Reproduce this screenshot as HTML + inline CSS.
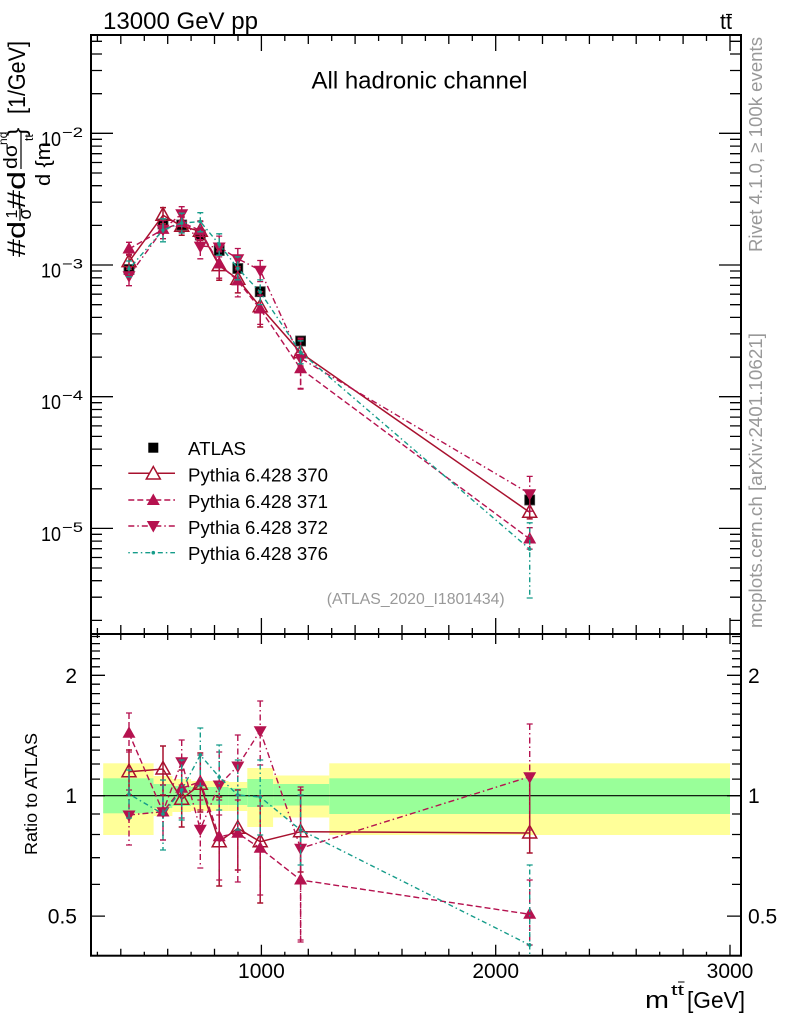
<!DOCTYPE html>
<html><head><meta charset="utf-8"><style>
html,body{margin:0;padding:0;background:#fff;}
svg{display:block;font-family:"Liberation Sans",Arial,Helvetica,sans-serif;}
</style></head><body>
<svg width="786" height="1024" viewBox="0 0 786 1024" xmlns="http://www.w3.org/2000/svg">
<defs>
<clipPath id="cm"><rect x="91" y="35" width="650" height="599"/></clipPath>
<clipPath id="cr"><rect x="91" y="634" width="650" height="321.7"/></clipPath>
<path id="tu" d="M-6.5,4.5 L6.5,4.5 L0,-7 Z"/>
<path id="td" d="M-6.5,-4.5 L6.5,-4.5 L0,7 Z"/>
<path id="to" d="M-7,5 L7,5 L0,-7.5 Z"/>
</defs>
<rect width="786" height="1024" fill="#fff"/>

<!-- Top labels -->
<text x="103" y="29" font-size="24" textLength="155" lengthAdjust="spacingAndGlyphs">13000 GeV pp</text>
<text x="720" y="29" font-size="22" textLength="12" lengthAdjust="spacingAndGlyphs">tt</text>
<line x1="726" y1="14.5" x2="732" y2="14.5" stroke="#000" stroke-width="1.2"/>
<text x="311.5" y="88.3" font-size="24" textLength="216" lengthAdjust="spacingAndGlyphs">All hadronic channel</text>
<text x="326.7" y="604" font-size="16" fill="#999" textLength="178" lengthAdjust="spacingAndGlyphs">(ATLAS_2020_I1801434)</text>

<!-- Right vertical texts -->
<text transform="rotate(-90)" x="-252" y="762" font-size="18.6" fill="#999" textLength="215" lengthAdjust="spacingAndGlyphs">Rivet 4.1.0, ≥ 100k events</text>
<text transform="rotate(-90)" x="-628" y="762" font-size="18.6" fill="#999" textLength="295" lengthAdjust="spacingAndGlyphs">mcplots.cern.ch [arXiv:2401.10621]</text>

<!-- Main y label -->
<g transform="rotate(-90)">
<text x="-257" y="25" font-size="25" textLength="36" lengthAdjust="spacingAndGlyphs">#d</text>
<text x="-214" y="17" font-size="16" text-anchor="middle">1</text>
<text x="-214" y="31" font-size="18" text-anchor="middle">σ</text>
<text x="-209" y="25" font-size="25" textLength="38" lengthAdjust="spacingAndGlyphs">#d</text>
<text x="-169" y="17" font-size="19" textLength="25" lengthAdjust="spacingAndGlyphs">dσ</text>
<text x="-145" y="7" font-size="12">nd</text>
<text x="-186" y="50" font-size="20" textLength="44" lengthAdjust="spacingAndGlyphs">d {m</text>
<text x="-141" y="33" font-size="12">tt</text>
<text x="-136" y="25" font-size="25">}</text>
<text x="-114" y="25" font-size="24" textLength="73" lengthAdjust="spacingAndGlyphs">[1/GeV]</text>
</g>
<line x1="20" y1="221" x2="20" y2="206" stroke="#000" stroke-width="1.2"/>
<line x1="21" y1="169" x2="21" y2="131" stroke="#000" stroke-width="1.2"/>

<text transform="rotate(-90)" x="-855" y="37" font-size="17.7" textLength="122" lengthAdjust="spacingAndGlyphs">Ratio to ATLAS</text>

<!-- Ratio bands -->
<g>
<rect x="103.2" y="763.3" width="50.4" height="71.7" fill="#ffff99"/>
<rect x="103.2" y="778.3" width="50.4" height="35" fill="#99ff99"/>
<rect x="153.6" y="776" width="18.8" height="40" fill="#ffff99"/>
<rect x="153.6" y="784" width="18.8" height="24" fill="#99ff99"/>
<rect x="172.4" y="779" width="18.7" height="33" fill="#ffff99"/>
<rect x="172.4" y="786" width="18.7" height="20" fill="#99ff99"/>
<rect x="191.1" y="781" width="18.8" height="30" fill="#ffff99"/>
<rect x="191.1" y="787" width="18.8" height="18" fill="#99ff99"/>
<rect x="209.9" y="781" width="18.7" height="30" fill="#ffff99"/>
<rect x="209.9" y="787" width="18.7" height="18" fill="#99ff99"/>
<rect x="228.6" y="782" width="18.7" height="29" fill="#ffff99"/>
<rect x="228.6" y="788" width="18.7" height="17" fill="#99ff99"/>
<rect x="247.3" y="768" width="25.8" height="59" fill="#ffff99"/>
<rect x="247.3" y="779" width="25.8" height="28" fill="#99ff99"/>
<rect x="273.1" y="775.5" width="56.2" height="42" fill="#ffff99"/>
<rect x="273.1" y="784" width="56.2" height="21.5" fill="#99ff99"/>
<rect x="329.3" y="763.3" width="400.7" height="71.7" fill="#ffff99"/>
<rect x="329.3" y="778.3" width="400.7" height="35.7" fill="#99ff99"/>
</g>
<line x1="91" y1="795.7" x2="741" y2="795.7" stroke="#000" stroke-width="1.2"/>

<!-- Frames -->
<rect x="91" y="35" width="650" height="599" fill="none" stroke="#000" stroke-width="2"/>
<rect x="91" y="634" width="650" height="321.7" fill="none" stroke="#000" stroke-width="2"/>

<!-- X ticks -->
<g stroke="#000" stroke-width="1.3" fill="none">
<path d="M261.4 35v16M495.7 35v16M730 35v16
M120.8 35v9M167.7 35v9M214.5 35v9M308.3 35v9M355.1 35v9M402 35v9M448.8 35v9M542.5 35v9M589.4 35v9M636.2 35v9M683.1 35v9
M97.4 35v6M144.3 35v6M191.1 35v6M238 35v6M284.8 35v6M331.7 35v6M378.6 35v6M425.4 35v6M472.3 35v6M519.1 35v6M566 35v6M612.8 35v6M659.7 35v6M706.5 35v6"/>
<path d="M261.4 634v-16M495.7 634v-16M730 634v-16
M120.8 634v-9M167.7 634v-9M214.5 634v-9M308.3 634v-9M355.1 634v-9M402 634v-9M448.8 634v-9M542.5 634v-9M589.4 634v-9M636.2 634v-9M683.1 634v-9
M97.4 634v-6M144.3 634v-6M191.1 634v-6M238 634v-6M284.8 634v-6M331.7 634v-6M378.6 634v-6M425.4 634v-6M472.3 634v-6M519.1 634v-6M566 634v-6M612.8 634v-6M659.7 634v-6M706.5 634v-6"/>
<path d="M261.4 634v10M495.7 634v10M730 634v10
M120.8 634v6M167.7 634v6M214.5 634v6M308.3 634v6M355.1 634v6M402 634v6M448.8 634v6M542.5 634v6M589.4 634v6M636.2 634v6M683.1 634v6
M97.4 634v4M144.3 634v4M191.1 634v4M238 634v4M284.8 634v4M331.7 634v4M378.6 634v4M425.4 634v4M472.3 634v4M519.1 634v4M566 634v4M612.8 634v4M659.7 634v4M706.5 634v4"/>
<path d="M261.4 955.7v-11M495.7 955.7v-11M730 955.7v-11
M120.8 955.7v-7M167.7 955.7v-7M214.5 955.7v-7M308.3 955.7v-7M355.1 955.7v-7M402 955.7v-7M448.8 955.7v-7M542.5 955.7v-7M589.4 955.7v-7M636.2 955.7v-7M683.1 955.7v-7
M97.4 955.7v-4M144.3 955.7v-4M191.1 955.7v-4M238 955.7v-4M284.8 955.7v-4M331.7 955.7v-4M378.6 955.7v-4M425.4 955.7v-4M472.3 955.7v-4M519.1 955.7v-4M566 955.7v-4M612.8 955.7v-4M659.7 955.7v-4M706.5 955.7v-4"/>
</g>

<!-- Main Y ticks -->
<g stroke="#000" stroke-width="1.3" fill="none">
<path d="M91 133.3h22M91 265h22M91 396.7h22M91 528.4h22
M91 93.7h11M91 70.5h11M91 54h11M91 41.3h11
M91 225.4h11M91 202.2h11M91 185.7h11M91 173h11M91 162.5h11M91 153.7h11M91 146.1h11M91 139.3h11
M91 357.1h11M91 333.9h11M91 317.4h11M91 304.7h11M91 294.2h11M91 285.4h11M91 277.8h11M91 271h11
M91 488.8h11M91 465.6h11M91 449.1h11M91 436.4h11M91 425.9h11M91 417.1h11M91 409.5h11M91 402.7h11
M91 620.4h11M91 597.2h11M91 580.7h11M91 568h11M91 557.5h11M91 548.7h11M91 541.1h11M91 534.3h11"/>
<path d="M741 133.3h-22M741 265h-22M741 396.7h-22M741 528.4h-22
M741 93.7h-11M741 70.5h-11M741 54h-11M741 41.3h-11
M741 225.4h-11M741 202.2h-11M741 185.7h-11M741 173h-11M741 162.5h-11M741 153.7h-11M741 146.1h-11M741 139.3h-11
M741 357.1h-11M741 333.9h-11M741 317.4h-11M741 304.7h-11M741 294.2h-11M741 285.4h-11M741 277.8h-11M741 271h-11
M741 488.8h-11M741 465.6h-11M741 449.1h-11M741 436.4h-11M741 425.9h-11M741 417.1h-11M741 409.5h-11M741 402.7h-11
M741 620.4h-11M741 597.2h-11M741 580.7h-11M741 568h-11M741 557.5h-11M741 548.7h-11M741 541.1h-11M741 534.3h-11"/>
<path d="M91 916.1h14M91 795.7h14M91 675.3h14
M91 884.4h9M91 857.7h9M91 834.5h9M91 814h9M91 779.1h9M91 764h9M91 750.1h9M91 737.2h9M91 725.3h9M91 714.1h9M91 703.5h9M91 693.6h9M91 684.2h9M91 666.8h9M91 658.7h9M91 651h9M91 643.6h9M91 636.5h9"/>
<path d="M741 916.1h-14M741 795.7h-14M741 675.3h-14
M741 884.4h-9M741 857.7h-9M741 834.5h-9M741 814h-9M741 779.1h-9M741 764h-9M741 750.1h-9M741 737.2h-9M741 725.3h-9M741 714.1h-9M741 703.5h-9M741 693.6h-9M741 684.2h-9M741 666.8h-9M741 658.7h-9M741 651h-9M741 643.6h-9M741 636.5h-9"/>
</g>

<!-- Tick labels -->
<g font-size="20">
<text x="61" y="145.8" text-anchor="end" textLength="20" lengthAdjust="spacingAndGlyphs">10</text>
<text x="61" y="277.5" text-anchor="end" textLength="20" lengthAdjust="spacingAndGlyphs">10</text>
<text x="61" y="409.2" text-anchor="end" textLength="20" lengthAdjust="spacingAndGlyphs">10</text>
<text x="61" y="540.9" text-anchor="end" textLength="20" lengthAdjust="spacingAndGlyphs">10</text>
</g>
<g font-size="14">
<text x="62" y="136.8" textLength="21" lengthAdjust="spacingAndGlyphs">−2</text>
<text x="62" y="268.5" textLength="21" lengthAdjust="spacingAndGlyphs">−3</text>
<text x="62" y="400.2" textLength="21" lengthAdjust="spacingAndGlyphs">−4</text>
<text x="62" y="531.9" textLength="21" lengthAdjust="spacingAndGlyphs">−5</text>
</g>
<g font-size="21">
<text x="77" y="682.8" text-anchor="end">2</text>
<text x="77" y="803.2" text-anchor="end">1</text>
<text x="77" y="923.6" text-anchor="end">0.5</text>
<text x="748" y="682.8">2</text>
<text x="748" y="803.2">1</text>
<text x="748" y="923.6">0.5</text>
<text x="261.4" y="978" text-anchor="middle">1000</text>
<text x="495.7" y="978" text-anchor="middle">2000</text>
<text x="730" y="978" text-anchor="middle">3000</text>
</g>
<!-- X title -->
<text x="645" y="1008" font-size="24" textLength="24" lengthAdjust="spacingAndGlyphs">m</text>
<text x="671" y="995" font-size="15" textLength="13" lengthAdjust="spacingAndGlyphs">tt</text>
<line x1="678" y1="982" x2="684.5" y2="982" stroke="#000" stroke-width="1"/>
<text x="687" y="1008" font-size="23" textLength="58" lengthAdjust="spacingAndGlyphs">[GeV]</text>

<!-- MAIN PANEL DATA -->
<g clip-path="url(#cm)">
<g fill="#000" stroke="#444" stroke-width="0.8">
<rect x="124" y="264.5" width="10" height="10"/>
<rect x="158" y="219" width="10" height="10"/>
<rect x="176.7" y="220" width="10" height="10"/>
<rect x="195.3" y="230" width="10" height="10"/>
<rect x="214.2" y="245.5" width="10" height="10"/>
<rect x="232.8" y="263.5" width="10" height="10"/>
<rect x="255.2" y="286.7" width="10" height="10"/>
<rect x="295.6" y="336" width="10" height="10"/>
<rect x="524.7" y="495" width="10" height="10"/>
</g>
<g stroke="#a8112e" stroke-width="1.5" fill="none">
<polyline points="129,261.6 163,215.2 181.7,226.2 200.3,231.3 219.2,265.6 237.8,279.2 260.2,306.8 300.6,352.8 529.7,512.3"/>
<path d="M129 254.5V269.3M163 207.6V223.8M181.7 216.6V235.3M200.3 221V240.4M219.2 250.9V280.2M237.8 266.6V292.9M260.2 291.8V327M300.6 339.1V366.1M529.7 493.9V518.9
M126 254.5h6M126 269.3h6M160 207.6h6M160 223.8h6M178.7 216.6h6M178.7 235.3h6M197.3 221h6M197.3 240.4h6M216.2 250.9h6M216.2 280.2h6M234.8 266.6h6M234.8 292.9h6M257.2 291.8h6M257.2 327h6M297.6 339.1h6M297.6 366.1h6M526.7 493.9h6M526.7 518.9h6"/>
<use href="#to" x="129" y="261.6"/><use href="#to" x="163" y="215.2"/><use href="#to" x="181.7" y="226.2"/><use href="#to" x="200.3" y="231.3"/><use href="#to" x="219.2" y="265.6"/><use href="#to" x="237.8" y="279.2"/><use href="#to" x="260.2" y="306.8"/><use href="#to" x="300.6" y="352.8"/><use href="#to" x="529.7" y="512.3"/>
</g>
<g stroke="#b5124f" stroke-width="1.4" fill="none" stroke-dasharray="6,3">
<polyline points="129,249 163,229.4 181.7,222.6 200.3,230.4 219.2,264 237.8,280.9 260.2,309 300.6,368.7 529.7,539"/>
<path d="M129 242.3V255.2M163 220.5V238.6M181.7 213.3V232.4M200.3 221.6V239.7M219.2 251.9V278.2M237.8 268.3V296.9M260.2 295.1V324.4M300.6 352.2V388.4M529.7 527.7V549.1"/>
</g>
<g stroke="#b5124f" stroke-width="1.3">
<path d="M126 242.3h6M126 255.2h6M160 220.5h6M160 238.6h6M178.7 213.3h6M178.7 232.4h6M197.3 221.6h6M197.3 239.7h6M216.2 251.9h6M216.2 278.2h6M234.8 268.3h6M234.8 296.9h6M257.2 295.1h6M257.2 324.4h6M297.6 352.2h6M297.6 388.4h6M526.7 527.7h6M526.7 549.1h6"/>
</g>
<g fill="#b5124f">
<use href="#tu" x="129" y="249"/><use href="#tu" x="163" y="229.4"/><use href="#tu" x="181.7" y="222.6"/><use href="#tu" x="200.3" y="230.4"/><use href="#tu" x="219.2" y="264"/><use href="#tu" x="237.8" y="280.9"/><use href="#tu" x="260.2" y="309"/><use href="#tu" x="300.6" y="368.7"/><use href="#tu" x="529.7" y="539"/>
</g>
<g stroke="#b5124f" stroke-width="1.4" fill="none" stroke-dasharray="6,3,1.5,3">
<polyline points="129,275.8 163,229.3 181.7,213.8 200.3,246.1 219.2,247 237.8,258.7 260.2,270.3 300.6,358.3 529.7,493.7"/>
<path d="M129 267.6V285.7M163 220.5V238.6M181.7 206.7V221.5M200.3 236.5V258.8M219.2 236.1V256.9M237.8 248.5V269.9M260.2 260.5V281.6M300.6 338.1V389.1M529.7 476.4V511.2"/>
</g>
<g stroke="#b5124f" stroke-width="1.3">
<path d="M126 267.6h6M126 285.7h6M160 220.5h6M160 238.6h6M178.7 206.7h6M178.7 221.5h6M197.3 236.5h6M197.3 258.8h6M216.2 236.1h6M216.2 256.9h6M234.8 248.5h6M234.8 269.9h6M257.2 260.5h6M257.2 281.6h6M297.6 338.1h6M297.6 389.1h6M526.7 476.4h6M526.7 511.2h6"/>
</g>
<g fill="#b5124f">
<use href="#td" x="129" y="275.8"/><use href="#td" x="163" y="229.3"/><use href="#td" x="181.7" y="213.8"/><use href="#td" x="200.3" y="246.1"/><use href="#td" x="219.2" y="247"/><use href="#td" x="237.8" y="258.7"/><use href="#td" x="260.2" y="270.3"/><use href="#td" x="300.6" y="358.3"/><use href="#td" x="529.7" y="493.7"/>
</g>
<g stroke="#169c8a" stroke-width="1.4" fill="none" stroke-dasharray="1.5,3,5,3">
<polyline points="129,268.9 163,230 181.7,223.1 200.3,221.6 219.2,244.3 237.8,268.3 260.2,292.1 300.6,352.3 529.7,549.1"/>
<path d="M129 261V276.8M163 218.8V241.8M181.7 213.2V233M200.3 212.7V231.8M219.2 233.8V255.2M237.8 256.8V279.8M260.2 279.9V304.6M300.6 340.8V363.8M529.7 522.8V598"/>
</g>
<g stroke="#169c8a" stroke-width="1.3">
<path d="M126 261h6M126 276.8h6M160 218.8h6M160 241.8h6M178.7 213.2h6M178.7 233h6M197.3 212.7h6M197.3 231.8h6M216.2 233.8h6M216.2 255.2h6M234.8 256.8h6M234.8 279.8h6M257.2 279.9h6M257.2 304.6h6M297.6 340.8h6M297.6 363.8h6M526.7 522.8h6M526.7 598h6"/>
</g>
<g fill="#169c8a">
<circle cx="129" cy="268.9" r="1.8"/><circle cx="163" cy="230" r="1.8"/><circle cx="181.7" cy="223.1" r="1.8"/><circle cx="200.3" cy="221.6" r="1.8"/><circle cx="219.2" cy="244.3" r="1.8"/><circle cx="237.8" cy="268.3" r="1.8"/><circle cx="260.2" cy="292.1" r="1.8"/><circle cx="300.6" cy="352.3" r="1.8"/><circle cx="529.7" cy="549.1" r="1.8"/>
</g>
</g>

<!-- RATIO PANEL DATA -->
<g clip-path="url(#cr)">
<g stroke="#a8112e" stroke-width="1.5" fill="none">
<polyline points="129,771.7 163,769 181.7,799.3 200.3,784.3 219.2,841.7 237.8,828.3 260.2,841.7 300.6,831.7 529.7,833"/>
<path d="M129 750V795M163 746V795M181.7 770V827M200.3 753V812M219.2 797V886M237.8 790V870M260.2 796V903M300.6 790V872M529.7 777V853
M126 750h6M126 795h6M160 746h6M160 795h6M178.7 770h6M178.7 827h6M197.3 753h6M197.3 812h6M216.2 797h6M216.2 886h6M234.8 790h6M234.8 870h6M257.2 796h6M257.2 903h6M297.6 790h6M297.6 872h6M526.7 777h6M526.7 853h6"/>
<use href="#to" x="129" y="771.7"/><use href="#to" x="163" y="769"/><use href="#to" x="181.7" y="799.3"/><use href="#to" x="200.3" y="784.3"/><use href="#to" x="219.2" y="841.7"/><use href="#to" x="237.8" y="828.3"/><use href="#to" x="260.2" y="841.7"/><use href="#to" x="300.6" y="831.7"/><use href="#to" x="529.7" y="833"/>
</g>
<g stroke="#b5124f" stroke-width="1.4" fill="none" stroke-dasharray="6,3">
<polyline points="129,733.3 163,812 181.7,788.3 200.3,781.7 219.2,836.7 237.8,833.3 260.2,848.3 300.6,880 529.7,914.3"/>
<path d="M129 713V752M163 785V840M181.7 760V818M200.3 755V810M219.2 800V880M237.8 795V882M260.2 806V895M300.6 830V940M529.7 880V945"/>
</g>
<g stroke="#b5124f" stroke-width="1.3">
<path d="M126 713h6M126 752h6M160 785h6M160 840h6M178.7 760h6M178.7 818h6M197.3 755h6M197.3 810h6M216.2 800h6M216.2 880h6M234.8 795h6M234.8 882h6M257.2 806h6M257.2 895h6M297.6 830h6M297.6 940h6M526.7 880h6M526.7 945h6"/>
</g>
<g fill="#b5124f">
<use href="#tu" x="129" y="733.3"/><use href="#tu" x="163" y="812"/><use href="#tu" x="181.7" y="788.3"/><use href="#tu" x="200.3" y="781.7"/><use href="#tu" x="219.2" y="836.7"/><use href="#tu" x="237.8" y="833.3"/><use href="#tu" x="260.2" y="848.3"/><use href="#tu" x="300.6" y="880"/><use href="#tu" x="529.7" y="914.3"/>
</g>
<g stroke="#b5124f" stroke-width="1.4" fill="none" stroke-dasharray="6,3,1.5,3">
<polyline points="129,815 163,811.7 181.7,761.7 200.3,829.3 219.2,785 237.8,766 260.2,730.7 300.6,848.3 529.7,776.7"/>
<path d="M129 790V845M163 785V840M181.7 740V785M200.3 800V868M219.2 752V815M237.8 735V800M260.2 701V765M300.6 787V942M529.7 724V830"/>
</g>
<g stroke="#b5124f" stroke-width="1.3">
<path d="M126 790h6M126 845h6M160 785h6M160 840h6M178.7 740h6M178.7 785h6M197.3 800h6M197.3 868h6M216.2 752h6M216.2 815h6M234.8 735h6M234.8 800h6M257.2 701h6M257.2 765h6M297.6 787h6M297.6 942h6M526.7 724h6M526.7 830h6"/>
</g>
<g fill="#b5124f">
<use href="#td" x="129" y="815"/><use href="#td" x="163" y="811.7"/><use href="#td" x="181.7" y="761.7"/><use href="#td" x="200.3" y="829.3"/><use href="#td" x="219.2" y="785"/><use href="#td" x="237.8" y="766"/><use href="#td" x="260.2" y="730.7"/><use href="#td" x="300.6" y="848.3"/><use href="#td" x="529.7" y="776.7"/>
</g>
<g stroke="#169c8a" stroke-width="1.4" fill="none" stroke-dasharray="1.5,3,5,3">
<polyline points="129,794 163,814 181.7,790 200.3,755 219.2,777 237.8,795 260.2,797 300.6,830 529.7,945"/>
<path d="M129 770V818M163 780V850M181.7 760V820M200.3 728V786M219.2 745V810M237.8 760V830M260.2 760V835M300.6 795V865M529.7 865V960"/>
</g>
<g stroke="#169c8a" stroke-width="1.3">
<path d="M126 770h6M126 818h6M160 780h6M160 850h6M178.7 760h6M178.7 820h6M197.3 728h6M197.3 786h6M216.2 745h6M216.2 810h6M234.8 760h6M234.8 830h6M257.2 760h6M257.2 835h6M297.6 795h6M297.6 865h6M526.7 865h6"/>
</g>
<g fill="#169c8a">
<circle cx="129" cy="794" r="1.8"/><circle cx="163" cy="814" r="1.8"/><circle cx="181.7" cy="790" r="1.8"/><circle cx="200.3" cy="755" r="1.8"/><circle cx="219.2" cy="777" r="1.8"/><circle cx="237.8" cy="795" r="1.8"/><circle cx="260.2" cy="797" r="1.8"/><circle cx="300.6" cy="830" r="1.8"/><circle cx="529.7" cy="945" r="1.8"/>
</g>
</g>

<!-- Legend -->
<rect x="148.3" y="442.7" width="10" height="10" fill="#000"/>
<line x1="128.3" y1="473.3" x2="175" y2="473.3" stroke="#a8112e" stroke-width="1.5"/>
<use href="#to" x="153.3" y="474" fill="#fff" stroke="#a8112e" stroke-width="1.5"/>
<line x1="128.3" y1="500" x2="175" y2="500" stroke="#b5124f" stroke-width="1.4" stroke-dasharray="6,3"/>
<use href="#tu" x="153.3" y="500.5" fill="#b5124f"/>
<line x1="128.3" y1="526" x2="175" y2="526" stroke="#b5124f" stroke-width="1.4" stroke-dasharray="6,3,1.5,3"/>
<use href="#td" x="153.3" y="525.5" fill="#b5124f"/>
<line x1="128.3" y1="552.7" x2="175" y2="552.7" stroke="#169c8a" stroke-width="1.4" stroke-dasharray="1.5,3,5,3"/>
<circle cx="153.3" cy="552.7" r="1.8" fill="#169c8a"/>
<g font-size="18.5">
<text x="188" y="455" textLength="58" lengthAdjust="spacingAndGlyphs">ATLAS</text>
<text x="188" y="481.5" textLength="140" lengthAdjust="spacingAndGlyphs">Pythia 6.428 370</text>
<text x="188" y="508" textLength="140" lengthAdjust="spacingAndGlyphs">Pythia 6.428 371</text>
<text x="188" y="534" textLength="140" lengthAdjust="spacingAndGlyphs">Pythia 6.428 372</text>
<text x="188" y="560" textLength="140" lengthAdjust="spacingAndGlyphs">Pythia 6.428 376</text>
</g>
</svg>
</body></html>
